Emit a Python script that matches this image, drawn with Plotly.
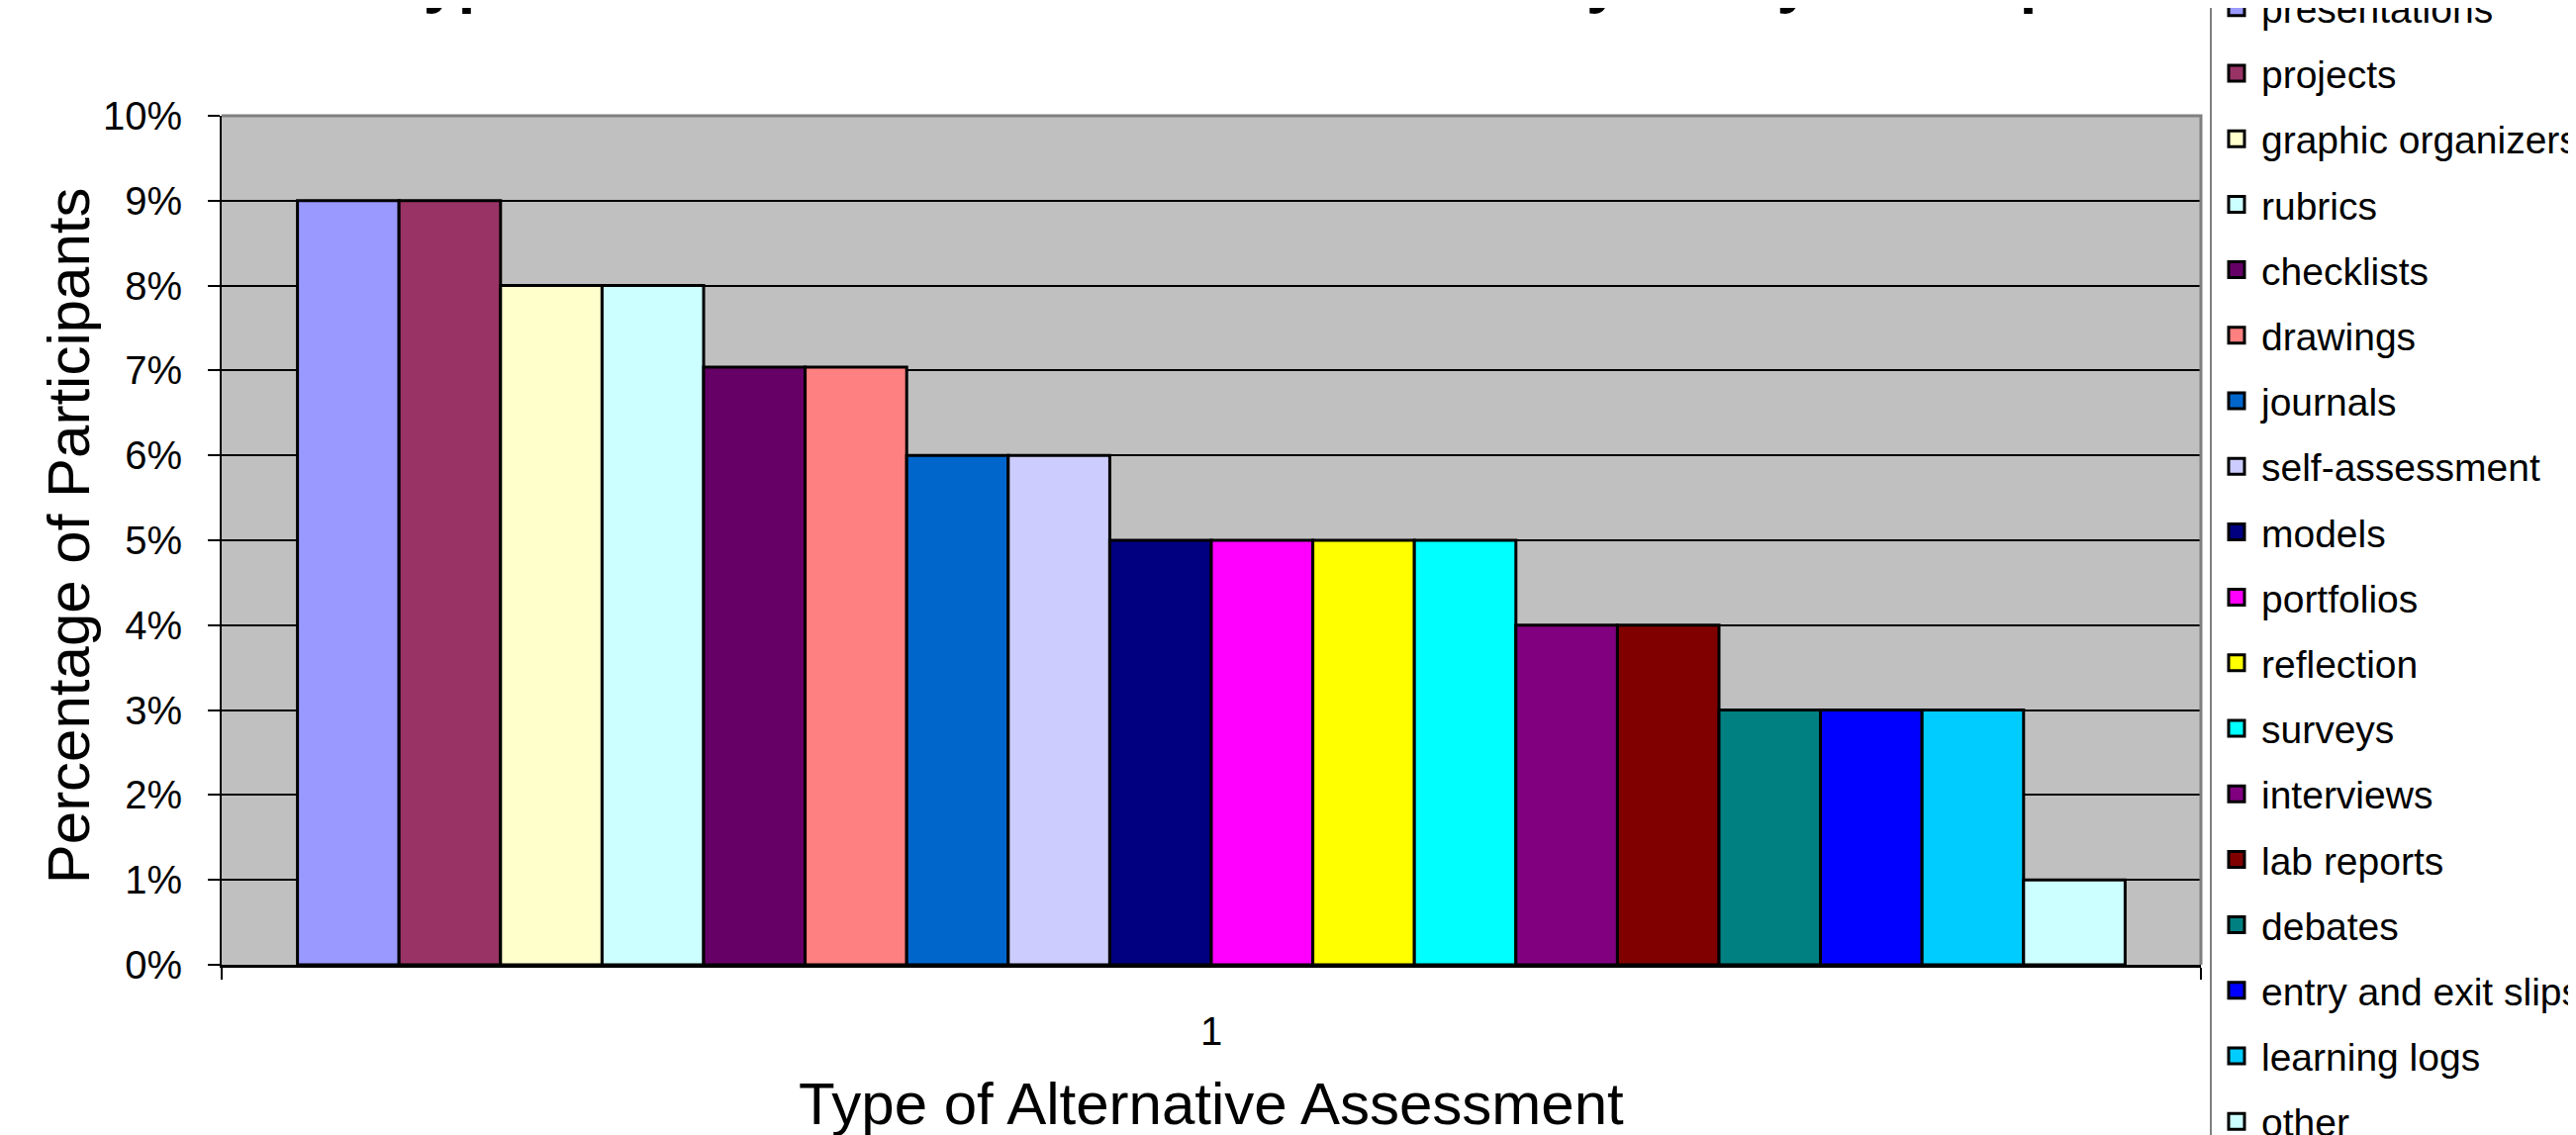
import plotly.graph_objects as go

categories = ["1"]
series_names = [
    "presentations", "projects", "graphic organizers", "rubrics", "checklists",
    "drawings", "journals", "self-assessment", "models", "portfolios",
    "reflection", "surveys", "interviews", "lab reports", "debates",
    "entry and exit slips", "learning logs", "other",
]
series_values = [0.09, 0.09, 0.08, 0.08, 0.0704, 0.0704, 0.06, 0.06, 0.05, 0.05,
                 0.05, 0.05, 0.04, 0.04, 0.03, 0.03, 0.03, 0.01]
series_colors = [
    "#9999FF", "#993366", "#FFFFCC", "#CCFFFF", "#660066",
    "#FF8080", "#0066CC", "#CCCCFF", "#000080", "#FF00FF",
    "#FFFF00", "#00FFFF", "#800080", "#800000", "#008080",
    "#0000FF", "#00CCFF", "#CCFFFF",
]
y_ticks = [0, 0.01, 0.02, 0.03, 0.04, 0.05, 0.06, 0.07, 0.08, 0.09, 0.10]

title_text = "Types of Alternative Assessment Used by Study Participants"
x_title = "Type of Alternative Assessment"
y_title = "Percentage of Participants"

FONT = "Liberation Sans, Arial, sans-serif"
W, H = 2595, 1139  # page body has an 8px margin

fig = go.Figure()
for name, val, col in zip(series_names, series_values, series_colors):
    fig.add_trace(go.Bar(
        x=categories, y=[val], name=name, showlegend=False,
        marker=dict(color=col, line=dict(color="black", width=3)),
    ))
# legend swatches
for name, col in zip(series_names, series_colors):
    fig.add_trace(go.Scatter(
        x=[None], y=[None], mode="markers", name=name, legendgroup=name,
        marker=dict(symbol="square", size=16, color=col,
                    line=dict(color="black", width=3)),
    ))

fig.update_layout(
    width=W, height=H,
    margin=dict(l=216, r=379, t=109, b=172, pad=0, autoexpand=False),
    paper_bgcolor="white", plot_bgcolor="#C0C0C0",
    barmode="group", bargap=0.0766, bargroupgap=0,
    font=dict(family=FONT, color="black"),
    showlegend=True,
    legend=dict(
        xref="paper", yref="paper",
        x=1.0045, xanchor="left", y=1.1667, yanchor="top",
        bordercolor="#808080", borderwidth=2, bgcolor="white",
        font=dict(family=FONT, size=39, color="black"),
        itemsizing="trace", itemwidth=40, tracegroupgap=12.5,
        traceorder="grouped", maxheight=1400,
    ),
    xaxis=dict(
        type="category", range=[-0.5, 0.5], showline=True, linecolor="black",
        linewidth=3, ticks="outside", tickson="boundaries", ticklen=12,
        tickwidth=2, tickcolor="black", showgrid=False, zeroline=False,
        tickfont=dict(size=40, family=FONT), ticklabelstandoff=30,
        automargin=False,
    ),
    yaxis=dict(
        range=[0, 0.10], tickvals=y_ticks, tickformat=".0%", showline=True,
        linecolor="black", linewidth=2, ticks="outside", ticklen=12,
        tickwidth=2, tickcolor="black", showgrid=True, gridcolor="black",
        gridwidth=1.5, zeroline=False, tickfont=dict(size=40, family=FONT),
        ticklabelstandoff=18,
        automargin=False,
    ),
    shapes=[dict(type="path", xref="paper", yref="paper",
                 path="M0,1 L1,1 L1,0", line=dict(color="#808080", width=3),
                 layer="above")],
    annotations=[
        dict(text="<b>" + title_text + "</b>", xref="paper", yref="paper",
             x=0.084, y=1, xanchor="left", yanchor="bottom", yshift=101,
             showarrow=False, font=dict(size=63, family=FONT, color="black")),
        dict(text=y_title, xref="paper", yref="paper", x=-0.0773, y=0.506,
             xanchor="center", yanchor="middle", textangle=-90, showarrow=False,
             font=dict(size=60, family=FONT, color="black")),
        dict(text=x_title, xref="paper", yref="paper", x=0.5, y=-0.1643,
             xanchor="center", yanchor="middle", showarrow=False,
             font=dict(size=60, family=FONT, color="black")),
    ],
)

fig.write_html("out.html")
